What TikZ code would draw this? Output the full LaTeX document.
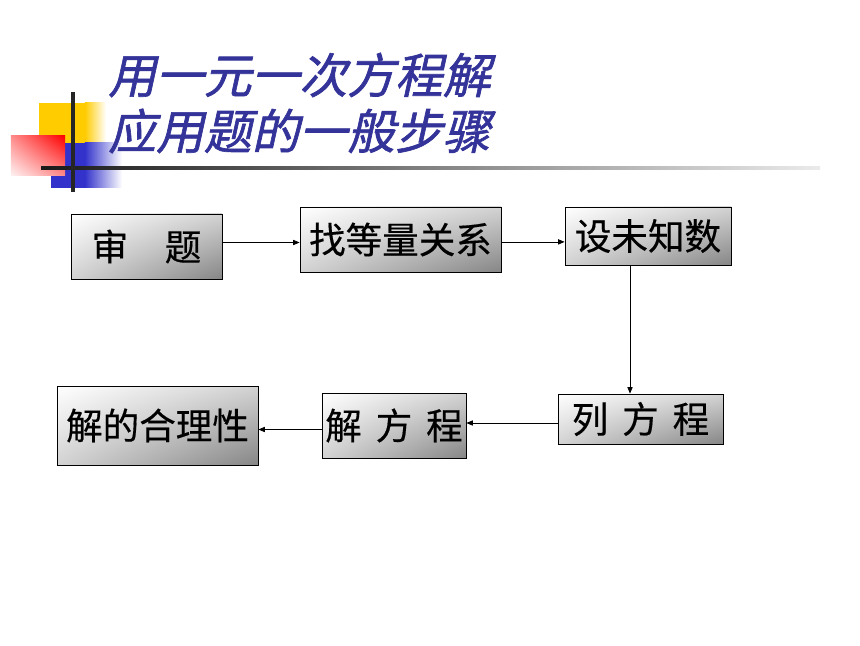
\documentclass[tikz,border=0pt]{standalone}
\usepackage{fontspec}
\usepackage{tikz}
\usetikzlibrary{arrows.meta,shadings}

\newfontfamily\cjk[FakeBold=0.4]{Noto Sans CJK SC}
\newfontfamily\cjkslant[FakeSlant=0.22,FakeBold=1.3]{Noto Sans CJK SC}

\definecolor{titleblue}{HTML}{333399}
\definecolor{squareyellow}{HTML}{FFCC00}
\definecolor{squareblue}{HTML}{3333CC}

\tikzset{
  stepbox/.style={draw=black, line width=0.6pt, inner sep=0pt,
    upper left=white, upper right=gray!35, lower left=gray!35,
    lower right=gray!95,
    font=\cjk\fontsize{26}{30}\selectfont},
  flow/.style={-{Triangle[length=1.6mm,width=1.3mm]}, line width=0.5pt},
  titleline/.style={anchor=west, inner sep=0pt, color=titleblue,
    font=\cjkslant\fontsize{34}{40}\selectfont}
}

\begin{document}
\begin{tikzpicture}

\useasboundingbox[fill=white] (0,0) rectangle (21.5,16.125);

\fill[squareyellow] (0.975,12.375) rectangle (2.125,13.55);

\shade[left color=squareyellow, right color=white] (2.12,12.375) rectangle
(2.65,13.55);

\fill[squareblue] (1.275,11.425) rectangle (2.125,12.55);

\shade[left color=squareblue, right color=white] (2.12,11.425) rectangle
(3.05,12.55);

\shade[upper right=red, upper left=red!45!white, lower right=red!45!white,
lower left=red!5!white] (0.275,11.725) rectangle (1.625,12.725);

\shade[left color=black!90, right color=black!8] (1.025,11.885) rectangle
(20.5,11.965);

\draw[line width=2.2pt, color=black!85] (1.825,11.325) -- (1.825,13.825);

\node[titleline] (title1) at (2.7,14.25) {用一元一次方程解};

\node[titleline] (title2) at (2.7,12.85) {应用题的一般步骤};

\node[stepbox, minimum width=3.775cm, minimum height=1.625cm] (shen) at
(3.6625,9.9625) {审　题};

\node[stepbox, minimum width=5.025cm, minimum height=1.625cm] (zhao) at
(10.0125,10.1375) {找等量关系};

\node[stepbox, minimum width=4.15cm, minimum height=1.45cm] (she) at
(16.2,10.225) {设未知数};

\node[stepbox, minimum width=4.125cm, minimum height=1.25cm] (lie) at
(16.0125,5.65) {列\hspace{.38em}方\hspace{.38em}程};

\node[stepbox, minimum width=3.6cm, minimum height=1.625cm] (jie) at
(9.85,5.4875) {解\hspace{.38em}方\hspace{.38em}程};

\node[stepbox, minimum width=5.025cm, minimum height=1.975cm] (heli) at
(3.9375,5.4875) {解的合理性};

\draw[flow] ([yshift=0.1cm]shen.east) -- ([yshift=0.1cm]shen.east -| zhao.west);

\draw[flow] ([yshift=-0.06cm]zhao.east) -- ([yshift=-0.06cm]zhao.east -| she.west);

\draw[flow] ([xshift=-0.45cm]she.south) -- ([xshift=-0.45cm]she.south |-
lie.north);

\draw[flow] ([yshift=-0.1cm]lie.west) -- ([yshift=-0.1cm]lie.west -| jie.east);

\draw[flow] ([yshift=-0.1cm]jie.west) -- ([yshift=-0.1cm]jie.west -| heli.east);

\end{tikzpicture}
\end{document}
